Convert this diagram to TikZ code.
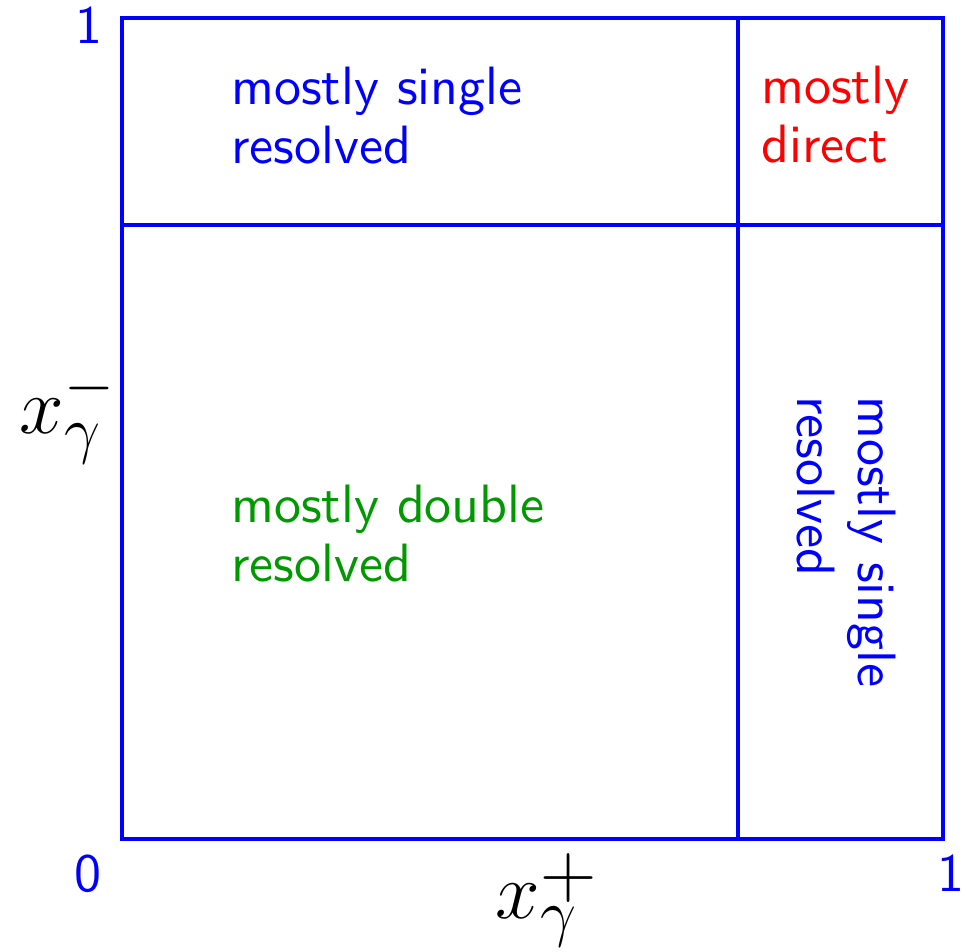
\documentclass[tikz,border=0pt]{standalone}
\usepackage{fix-cm}
\usepackage{fontspec}
\setsansfont{lmsans10-regular}[Extension=.otf]
\definecolor{dgreen}{RGB}{0,153,0}
\newcommand{\mathsz}[2]{\hbox{\fontsize{#1}{#1}\selectfont$#2$}}
\tikzset{
  frame/.style={draw=blue, line width=4.3pt},
  lbl/.style={font=\sffamily\fontsize{54}{59}\selectfont, inner sep=0pt, align=left, anchor=base west},
  num/.style={font=\sffamily\fontsize{54}{60}\selectfont, text=blue, inner sep=0pt, anchor=base},
  axis/.style={inner sep=0pt, anchor=base west}
}
\begin{document}
\begin{tikzpicture}[x=1pt,y=-1pt]
\useasboundingbox (0,0) rectangle (967,952);
\coordinate (bl) at (122,839);
\coordinate (tr) at (943,18);
\coordinate (vb) at (738,839);
\coordinate (vt) at (738,18);
\coordinate (hl) at (122,225);
\coordinate (hr) at (943,225);
\draw[frame] (bl) rectangle (tr);
\draw[frame] (vb) -- (vt);
\draw[frame] (hl) -- (hr);
\node[lbl, text=blue] (ms) at (231,164) {mostly single\\resolved};
\node[lbl, text=red] (md) at (761,163) {mostly\\direct};
\node[lbl, text=dgreen] (mdr) at (231,581) {mostly double\\resolved};
\node[lbl, text=blue, rotate=-90, font=\sffamily\fontsize{54}{61}\selectfont] (msr) at (797,396) {mostly single\\resolved};
\node[num] (one1) at (89,44) {1};
\node[num] (zero) at (88,891) {0};
\node[num] (one2) at (951,891) {1};
\node[axis] (xm) at (19.5,433) {\mathsz{80}{x}\rlap{\raisebox{-18pt}{\mathsz{64}{\gamma}}}\raisebox{29pt}{\mathsz{64}{-}}};
\node[axis] (xp) at (495.5,918) {\mathsz{80}{x}\rlap{\raisebox{-16pt}{\mathsz{64}{\gamma}}}\raisebox{21pt}{\mathsz{78}{+}}};
\end{tikzpicture}
\end{document}
